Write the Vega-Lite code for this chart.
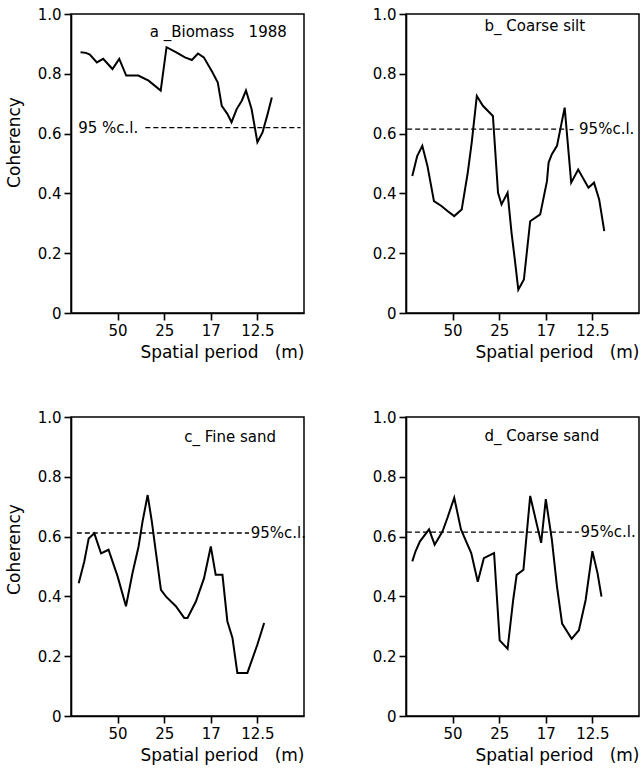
{
  "$schema": "https://vega.github.io/schema/vega-lite/v6.json",
  "background": "white",
  "padding": {"left": 4, "top": 6, "right": 2, "bottom": 2},
  "config": {
    "font": "DejaVu Sans",
    "view": {"stroke": "black", "strokeWidth": 1.5},
    "axis": {
      "grid": false,
      "domainColor": "black",
      "domainWidth": 1.6,
      "tickColor": "black",
      "tickWidth": 1.6,
      "tickSize": 7,
      "labelColor": "black",
      "labelFontSize": 15,
      "labelFont": "DejaVu Sans",
      "labelPadding": 3,
      "titleColor": "black",
      "titleFont": "DejaVu Sans",
      "titleFontSize": 17,
      "titleFontWeight": "normal"
    },
    "axisX": {"labelPadding": 3}
  },
  "datasets": {
    "curves": [
      {"panel": "a", "freq": 0.0041, "coh": 0.872},
      {"panel": "a", "freq": 0.0064, "coh": 0.870},
      {"panel": "a", "freq": 0.0081, "coh": 0.864},
      {"panel": "a", "freq": 0.0111, "coh": 0.838},
      {"panel": "a", "freq": 0.0138, "coh": 0.850},
      {"panel": "a", "freq": 0.0178, "coh": 0.816},
      {"panel": "a", "freq": 0.0207, "coh": 0.850},
      {"panel": "a", "freq": 0.0237, "coh": 0.794},
      {"panel": "a", "freq": 0.0289, "coh": 0.794},
      {"panel": "a", "freq": 0.0333, "coh": 0.777},
      {"panel": "a", "freq": 0.0385, "coh": 0.744},
      {"panel": "a", "freq": 0.0410, "coh": 0.889},
      {"panel": "a", "freq": 0.0452, "coh": 0.872},
      {"panel": "a", "freq": 0.0489, "coh": 0.855},
      {"panel": "a", "freq": 0.0519, "coh": 0.846},
      {"panel": "a", "freq": 0.0545, "coh": 0.868},
      {"panel": "a", "freq": 0.0570, "coh": 0.855},
      {"panel": "a", "freq": 0.0607, "coh": 0.805},
      {"panel": "a", "freq": 0.0630, "coh": 0.771},
      {"panel": "a", "freq": 0.0647, "coh": 0.693},
      {"panel": "a", "freq": 0.0671, "coh": 0.666},
      {"panel": "a", "freq": 0.0689, "coh": 0.638},
      {"panel": "a", "freq": 0.0711, "coh": 0.682},
      {"panel": "a", "freq": 0.0733, "coh": 0.710},
      {"panel": "a", "freq": 0.0751, "coh": 0.744},
      {"panel": "a", "freq": 0.0775, "coh": 0.682},
      {"panel": "a", "freq": 0.0800, "coh": 0.571},
      {"panel": "a", "freq": 0.0822, "coh": 0.604},
      {"panel": "a", "freq": 0.0844, "coh": 0.666},
      {"panel": "a", "freq": 0.0862, "coh": 0.721},
      {"panel": "b", "freq": 0.0027, "coh": 0.458},
      {"panel": "b", "freq": 0.0048, "coh": 0.525},
      {"panel": "b", "freq": 0.0070, "coh": 0.559},
      {"panel": "b", "freq": 0.0092, "coh": 0.492},
      {"panel": "b", "freq": 0.0120, "coh": 0.374},
      {"panel": "b", "freq": 0.0152, "coh": 0.358},
      {"panel": "b", "freq": 0.0178, "coh": 0.341},
      {"panel": "b", "freq": 0.0207, "coh": 0.324},
      {"panel": "b", "freq": 0.0239, "coh": 0.346},
      {"panel": "b", "freq": 0.0265, "coh": 0.469},
      {"panel": "b", "freq": 0.0282, "coh": 0.570},
      {"panel": "b", "freq": 0.0304, "coh": 0.726},
      {"panel": "b", "freq": 0.0330, "coh": 0.693},
      {"panel": "b", "freq": 0.0373, "coh": 0.659},
      {"panel": "b", "freq": 0.0395, "coh": 0.402},
      {"panel": "b", "freq": 0.0410, "coh": 0.363},
      {"panel": "b", "freq": 0.0436, "coh": 0.402},
      {"panel": "b", "freq": 0.0453, "coh": 0.268},
      {"panel": "b", "freq": 0.0467, "coh": 0.179},
      {"panel": "b", "freq": 0.0482, "coh": 0.078},
      {"panel": "b", "freq": 0.0506, "coh": 0.112},
      {"panel": "b", "freq": 0.0533, "coh": 0.307},
      {"panel": "b", "freq": 0.0576, "coh": 0.330},
      {"panel": "b", "freq": 0.0605, "coh": 0.441},
      {"panel": "b", "freq": 0.0612, "coh": 0.503},
      {"panel": "b", "freq": 0.0626, "coh": 0.531},
      {"panel": "b", "freq": 0.0648, "coh": 0.559},
      {"panel": "b", "freq": 0.0681, "coh": 0.687},
      {"panel": "b", "freq": 0.0709, "coh": 0.436},
      {"panel": "b", "freq": 0.0739, "coh": 0.480},
      {"panel": "b", "freq": 0.0783, "coh": 0.419},
      {"panel": "b", "freq": 0.0807, "coh": 0.436},
      {"panel": "b", "freq": 0.0829, "coh": 0.380},
      {"panel": "b", "freq": 0.0851, "coh": 0.274},
      {"panel": "c", "freq": 0.0033, "coh": 0.444},
      {"panel": "c", "freq": 0.0057, "coh": 0.517},
      {"panel": "c", "freq": 0.0076, "coh": 0.594},
      {"panel": "c", "freq": 0.0100, "coh": 0.611},
      {"panel": "c", "freq": 0.0129, "coh": 0.544},
      {"panel": "c", "freq": 0.0161, "coh": 0.556},
      {"panel": "c", "freq": 0.0200, "coh": 0.467},
      {"panel": "c", "freq": 0.0236, "coh": 0.367},
      {"panel": "c", "freq": 0.0264, "coh": 0.478},
      {"panel": "c", "freq": 0.0290, "coh": 0.567},
      {"panel": "c", "freq": 0.0307, "coh": 0.650},
      {"panel": "c", "freq": 0.0329, "coh": 0.739},
      {"panel": "c", "freq": 0.0347, "coh": 0.650},
      {"panel": "c", "freq": 0.0364, "coh": 0.550},
      {"panel": "c", "freq": 0.0386, "coh": 0.422},
      {"panel": "c", "freq": 0.0407, "coh": 0.400},
      {"panel": "c", "freq": 0.0450, "coh": 0.367},
      {"panel": "c", "freq": 0.0486, "coh": 0.328},
      {"panel": "c", "freq": 0.0500, "coh": 0.328},
      {"panel": "c", "freq": 0.0536, "coh": 0.383},
      {"panel": "c", "freq": 0.0571, "coh": 0.461},
      {"panel": "c", "freq": 0.0600, "coh": 0.567},
      {"panel": "c", "freq": 0.0621, "coh": 0.472},
      {"panel": "c", "freq": 0.0650, "coh": 0.472},
      {"panel": "c", "freq": 0.0671, "coh": 0.317},
      {"panel": "c", "freq": 0.0693, "coh": 0.261},
      {"panel": "c", "freq": 0.0714, "coh": 0.144},
      {"panel": "c", "freq": 0.0757, "coh": 0.144},
      {"panel": "c", "freq": 0.0800, "coh": 0.239},
      {"panel": "c", "freq": 0.0829, "coh": 0.311},
      {"panel": "d", "freq": 0.0027, "coh": 0.517},
      {"panel": "d", "freq": 0.0041, "coh": 0.551},
      {"panel": "d", "freq": 0.0060, "coh": 0.584},
      {"panel": "d", "freq": 0.0099, "coh": 0.624},
      {"panel": "d", "freq": 0.0123, "coh": 0.573},
      {"panel": "d", "freq": 0.0157, "coh": 0.618},
      {"panel": "d", "freq": 0.0178, "coh": 0.663},
      {"panel": "d", "freq": 0.0207, "coh": 0.730},
      {"panel": "d", "freq": 0.0236, "coh": 0.624},
      {"panel": "d", "freq": 0.0258, "coh": 0.584},
      {"panel": "d", "freq": 0.0280, "coh": 0.545},
      {"panel": "d", "freq": 0.0308, "coh": 0.449},
      {"panel": "d", "freq": 0.0334, "coh": 0.528},
      {"panel": "d", "freq": 0.0378, "coh": 0.545},
      {"panel": "d", "freq": 0.0402, "coh": 0.253},
      {"panel": "d", "freq": 0.0436, "coh": 0.225},
      {"panel": "d", "freq": 0.0460, "coh": 0.388},
      {"panel": "d", "freq": 0.0475, "coh": 0.472},
      {"panel": "d", "freq": 0.0504, "coh": 0.489},
      {"panel": "d", "freq": 0.0533, "coh": 0.736},
      {"panel": "d", "freq": 0.0580, "coh": 0.579},
      {"panel": "d", "freq": 0.0600, "coh": 0.725},
      {"panel": "d", "freq": 0.0626, "coh": 0.590},
      {"panel": "d", "freq": 0.0648, "coh": 0.433},
      {"panel": "d", "freq": 0.0670, "coh": 0.309},
      {"panel": "d", "freq": 0.0711, "coh": 0.258},
      {"panel": "d", "freq": 0.0742, "coh": 0.287},
      {"panel": "d", "freq": 0.0771, "coh": 0.388},
      {"panel": "d", "freq": 0.0800, "coh": 0.551},
      {"panel": "d", "freq": 0.0822, "coh": 0.478},
      {"panel": "d", "freq": 0.0839, "coh": 0.399}
    ],
    "refs": [
      {"panel": "a", "x1": 0.0319, "x2": 0.0985, "level": 0.62},
      {"panel": "b", "x1": 0.0005, "x2": 0.0684, "level": 0.615},
      {"panel": "c", "x1": 0.0025, "x2": 0.0764, "level": 0.612},
      {"panel": "d", "x1": 0.0004, "x2": 0.0742, "level": 0.615}
    ],
    "labels": [
      {"panel": "a", "kind": "title", "fx": 0.0338, "fy": 0.94, "text": "a _Biomass\u00a0\u00a0 1988"},
      {"panel": "a", "kind": "cl", "fx": 0.0031, "fy": 0.618, "text": "95 %c.l."},
      {"panel": "b", "kind": "title", "fx": 0.0337, "fy": 0.96, "text": "b_ Coarse silt"},
      {"panel": "b", "kind": "cl", "fx": 0.0699, "fy": 0.615, "text": "- 95%c.l."},
      {"panel": "c", "kind": "title", "fx": 0.0486, "fy": 0.933, "text": "c_ Fine sand"},
      {"panel": "c", "kind": "cl", "fx": 0.0771, "fy": 0.612, "text": "95%c.l."},
      {"panel": "d", "kind": "title", "fx": 0.0337, "fy": 0.938, "text": "d_ Coarse sand"},
      {"panel": "d", "kind": "cl", "fx": 0.0749, "fy": 0.615, "text": "95%c.l."}
    ]
  },
  "columns": 2,
  "bounds": "flush",
  "spacing": {"row": 104, "column": 102},
  "concat": [
    {
      "width": 233, "height": 299,
      "layer": [
        {"data": {"name": "curves"}, "transform": [{"filter": "datum.panel == 'a'"}],
         "mark": {"type": "line", "color": "black", "strokeWidth": 2},
         "encoding": {
           "x": {"field": "freq", "type": "quantitative", "scale": {"domain": [0, 0.1], "nice": false},
                 "axis": {"values": [0.02, 0.04, 0.06, 0.08], "labelExpr": "datum.value < 0.03 ? '50' : datum.value < 0.05 ? '25' : datum.value < 0.07 ? '17' : '12.5'", "title": "Spatial period\u00a0\u00a0 (m)", "titleAnchor": "end", "titlePadding": 6}},
           "y": {"field": "coh", "type": "quantitative", "scale": {"domain": [0, 1], "nice": false},
                 "axis": {"values": [0, 0.2, 0.4, 0.6, 0.8, 1.0], "labelExpr": "datum.value == 0 ? '0' : format(datum.value, '.1f')", "title": "Coherency", "titlePadding": 14, "titleY": 128}}
         }},
        {"data": {"name": "refs"}, "transform": [{"filter": "datum.panel == 'a'"}],
         "mark": {"type": "rule", "color": "black", "strokeWidth": 1.4, "strokeDash": [5, 3]},
         "encoding": {"x": {"field": "x1", "type": "quantitative"}, "x2": {"field": "x2"}, "y": {"field": "level", "type": "quantitative"}}},
        {"data": {"name": "labels"}, "transform": [{"filter": "datum.panel == 'a'"}],
         "mark": {"type": "text", "align": "left", "baseline": "middle", "fontSize": 15, "color": "black"},
         "encoding": {"x": {"field": "fx", "type": "quantitative"}, "y": {"field": "fy", "type": "quantitative"}, "text": {"field": "text"}}}
      ]
    },
    {
      "width": 233, "height": 299,
      "layer": [
        {"data": {"name": "curves"}, "transform": [{"filter": "datum.panel == 'b'"}],
         "mark": {"type": "line", "color": "black", "strokeWidth": 2},
         "encoding": {
           "x": {"field": "freq", "type": "quantitative", "scale": {"domain": [0, 0.1], "nice": false},
                 "axis": {"values": [0.02, 0.04, 0.06, 0.08], "labelExpr": "datum.value < 0.03 ? '50' : datum.value < 0.05 ? '25' : datum.value < 0.07 ? '17' : '12.5'", "title": "Spatial period\u00a0\u00a0 (m)", "titleAnchor": "end", "titlePadding": 6}},
           "y": {"field": "coh", "type": "quantitative", "scale": {"domain": [0, 1], "nice": false},
                 "axis": {"values": [0, 0.2, 0.4, 0.6, 0.8, 1.0], "labelExpr": "datum.value == 0 ? '0' : format(datum.value, '.1f')", "title": null}}
         }},
        {"data": {"name": "refs"}, "transform": [{"filter": "datum.panel == 'b'"}],
         "mark": {"type": "rule", "color": "black", "strokeWidth": 1.4, "strokeDash": [5, 3]},
         "encoding": {"x": {"field": "x1", "type": "quantitative"}, "x2": {"field": "x2"}, "y": {"field": "level", "type": "quantitative"}}},
        {"data": {"name": "labels"}, "transform": [{"filter": "datum.panel == 'b'"}],
         "mark": {"type": "text", "align": "left", "baseline": "middle", "fontSize": 15, "color": "black"},
         "encoding": {"x": {"field": "fx", "type": "quantitative"}, "y": {"field": "fy", "type": "quantitative"}, "text": {"field": "text"}}}
      ]
    },
    {
      "width": 233, "height": 299,
      "layer": [
        {"data": {"name": "curves"}, "transform": [{"filter": "datum.panel == 'c'"}],
         "mark": {"type": "line", "color": "black", "strokeWidth": 2},
         "encoding": {
           "x": {"field": "freq", "type": "quantitative", "scale": {"domain": [0, 0.1], "nice": false},
                 "axis": {"values": [0.02, 0.04, 0.06, 0.08], "labelExpr": "datum.value < 0.03 ? '50' : datum.value < 0.05 ? '25' : datum.value < 0.07 ? '17' : '12.5'", "title": "Spatial period\u00a0\u00a0 (m)", "titleAnchor": "end", "titlePadding": 6}},
           "y": {"field": "coh", "type": "quantitative", "scale": {"domain": [0, 1], "nice": false},
                 "axis": {"values": [0, 0.2, 0.4, 0.6, 0.8, 1.0], "labelExpr": "datum.value == 0 ? '0' : format(datum.value, '.1f')", "title": "Coherency", "titlePadding": 14, "titleY": 132}}
         }},
        {"data": {"name": "refs"}, "transform": [{"filter": "datum.panel == 'c'"}],
         "mark": {"type": "rule", "color": "black", "strokeWidth": 1.4, "strokeDash": [5, 3]},
         "encoding": {"x": {"field": "x1", "type": "quantitative"}, "x2": {"field": "x2"}, "y": {"field": "level", "type": "quantitative"}}},
        {"data": {"name": "labels"}, "transform": [{"filter": "datum.panel == 'c'"}],
         "mark": {"type": "text", "align": "left", "baseline": "middle", "fontSize": 15, "color": "black"},
         "encoding": {"x": {"field": "fx", "type": "quantitative"}, "y": {"field": "fy", "type": "quantitative"}, "text": {"field": "text"}}}
      ]
    },
    {
      "width": 233, "height": 299,
      "layer": [
        {"data": {"name": "curves"}, "transform": [{"filter": "datum.panel == 'd'"}],
         "mark": {"type": "line", "color": "black", "strokeWidth": 2},
         "encoding": {
           "x": {"field": "freq", "type": "quantitative", "scale": {"domain": [0, 0.1], "nice": false},
                 "axis": {"values": [0.02, 0.04, 0.06, 0.08], "labelExpr": "datum.value < 0.03 ? '50' : datum.value < 0.05 ? '25' : datum.value < 0.07 ? '17' : '12.5'", "title": "Spatial period\u00a0\u00a0 (m)", "titleAnchor": "end", "titlePadding": 6}},
           "y": {"field": "coh", "type": "quantitative", "scale": {"domain": [0, 1], "nice": false},
                 "axis": {"values": [0, 0.2, 0.4, 0.6, 0.8, 1.0], "labelExpr": "datum.value == 0 ? '0' : format(datum.value, '.1f')", "title": null}}
         }},
        {"data": {"name": "refs"}, "transform": [{"filter": "datum.panel == 'd'"}],
         "mark": {"type": "rule", "color": "black", "strokeWidth": 1.4, "strokeDash": [5, 3]},
         "encoding": {"x": {"field": "x1", "type": "quantitative"}, "x2": {"field": "x2"}, "y": {"field": "level", "type": "quantitative"}}},
        {"data": {"name": "labels"}, "transform": [{"filter": "datum.panel == 'd'"}],
         "mark": {"type": "text", "align": "left", "baseline": "middle", "fontSize": 15, "color": "black"},
         "encoding": {"x": {"field": "fx", "type": "quantitative"}, "y": {"field": "fy", "type": "quantitative"}, "text": {"field": "text"}}}
      ]
    }
  ]
}
